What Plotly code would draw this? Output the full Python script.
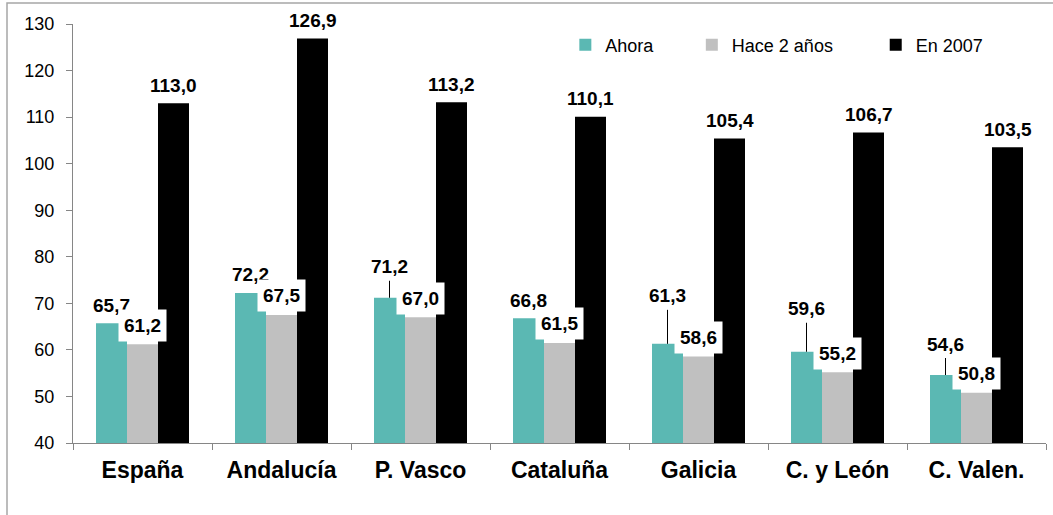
import plotly.graph_objects as go

categories = ["España", "Andalucía", "P. Vasco", "Cataluña", "Galicia", "C. y León", "C. Valen."]
ahora = [65.7, 72.2, 71.2, 66.8, 61.3, 59.6, 54.6]
hace2 = [61.2, 67.5, 67.0, 61.5, 58.6, 55.2, 50.8]
en2007 = [113.0, 126.9, 113.2, 110.1, 105.4, 106.7, 103.5]
series_names = ["Ahora", "Hace 2 años", "En 2007"]
y_ticks = [40, 50, 60, 70, 80, 90, 100, 110, 120, 130]

# label placement (pixels above bar top) and leader-line flags
ahora_lift = [18, 19, 31, 18, 48, 43, 31]
ahora_leader = [False, False, True, False, True, True, True]

colors = ["#5BB8B3", "#C0C0C0", "#000000"]
FONT = "Arial, Liberation Sans, sans-serif"


def fmt(v):
    return f"{v:.1f}".replace(".", ",")


fig = go.Figure()
for name, vals, col, lg in zip(series_names, [ahora, hace2, en2007], colors,
                               ["legend", "legend2", "legend3"]):
    fig.add_trace(go.Bar(x=categories, y=vals, name=name, marker_color=col,
                         marker_line_width=0, legend=lg))

ann = []
BAR = 31
for i, c in enumerate(categories):
    # Ahora
    if ahora_leader[i]:
        ann.append(dict(x=c, y=ahora[i], xshift=-BAR, text=fmt(ahora[i]), showarrow=True,
                        arrowhead=0, arrowwidth=1, arrowcolor="#000000", ax=0,
                        ay=-ahora_lift[i], standoff=0, xanchor="center", yanchor="middle",
                        bgcolor="white", borderpad=3))
    else:
        ann.append(dict(x=c, y=ahora[i], xshift=-BAR, yshift=ahora_lift[i], text=fmt(ahora[i]),
                        showarrow=False, yanchor="middle", bgcolor="white", borderpad=3))
    # Hace 2 años
    ann.append(dict(x=c, y=hace2[i], xshift=0, yshift=19, text=fmt(hace2[i]),
                    showarrow=False, yanchor="middle", bgcolor="white", borderpad=5))
    # En 2007
    ann.append(dict(x=c, y=en2007[i], xshift=BAR, yshift=18, text=fmt(en2007[i]),
                    showarrow=False, yanchor="middle"))
for a in ann:
    a["font"] = dict(family=FONT, size=19, color="#000000")
    a["text"] = "<b>" + a["text"] + "</b>"

leg_common = dict(orientation="h", y=0.95, xanchor="left", yanchor="middle",
                  font=dict(size=18, family=FONT), bgcolor="rgba(0,0,0,0)")

fig.update_layout(
    width=1053, height=515,
    margin=dict(l=73, r=7, t=24, b=72),
    paper_bgcolor="white", plot_bgcolor="white",
    barmode="group", bargap=0.331, bargroupgap=0,
    font=dict(family=FONT, size=18, color="#000000"),
    annotations=ann,
    showlegend=True,
    legend=dict(x=0.506, **leg_common),
    legend2=dict(x=0.636, **leg_common),
    legend3=dict(x=0.825, **leg_common),
    shapes=[dict(type="rect", xref="paper", yref="paper",
                 x0=(7 - 73) / 973, x1=1.2, y0=-0.4, y1=(443 - 3) / 419,
                 line=dict(color="#A6A6A6", width=1.5), fillcolor="rgba(0,0,0,0)",
                 layer="below")],
)
fig.update_yaxes(range=[40, 130], tickvals=y_ticks, showgrid=False, zeroline=False,
                 showline=True, linecolor="#868686", linewidth=1, ticks="outside",
                 ticklen=6, tickcolor="#868686", ticklabelstandoff=8,
                 tickfont=dict(size=18, family=FONT))
fig.update_xaxes(showgrid=False, showline=True, linecolor="#868686", linewidth=1,
                 ticks="outside", tickson="boundaries", ticklen=6, tickcolor="#868686",
                 ticklabelstandoff=6,
                 tickfont=dict(size=23, family=FONT, color="#000000"),
                 tickvals=categories, ticktext=["<b>" + c + "</b>" for c in categories])

fig.write_html("out.html", config={"displayModeBar": False},
               post_script="document.body.style.margin='0';")
